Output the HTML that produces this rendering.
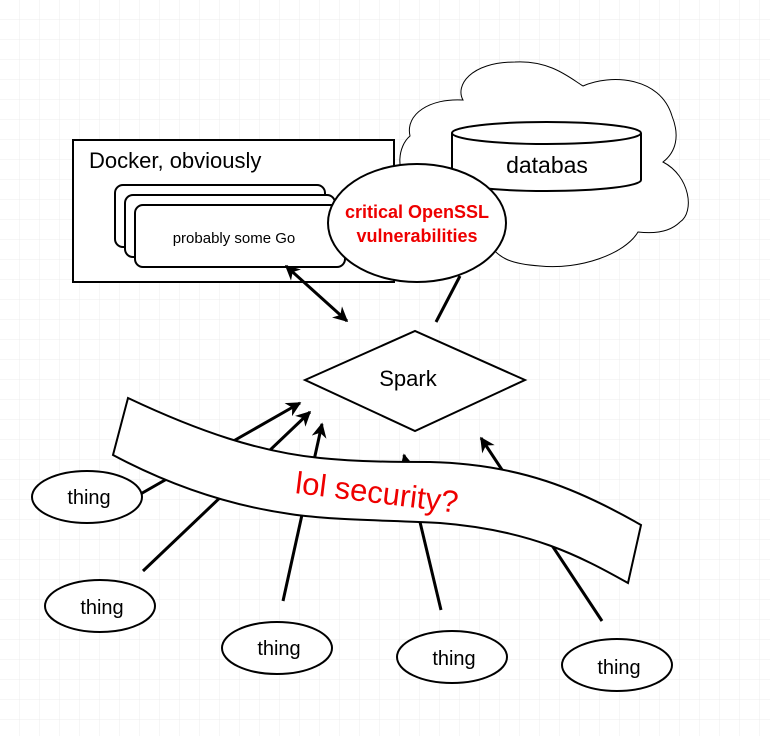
<!DOCTYPE html>
<html><head><style>
body{margin:0;background:#fff}
svg{display:block}
text{font-family:"Liberation Sans",sans-serif}
</style></head><body>
<svg width="770" height="736" viewBox="0 0 770 736" xmlns="http://www.w3.org/2000/svg">
<defs>
<pattern id="g" width="20" height="20" patternUnits="userSpaceOnUse">
<path d="M20 0V20H0" fill="none" stroke="#ececec" stroke-width="1"/>
</pattern>
<marker id="a" viewBox="0 0 10 10" refX="9" refY="5" markerWidth="5" markerHeight="5" orient="auto-start-reverse">
<path d="M0 0L10 5L0 10L3 5z" fill="#000"/>
</marker>
</defs>
<rect width="770" height="736" fill="url(#g)"/>
<!-- cloud -->
<path d="M463 100 C455 86 470 62 515 62 C550 60 570 78 583 86 C610 74 660 76 672 116 C680 136 676 152 663 162 C690 176 695 212 680 222 C670 232 655 234 638 232 C625 254 580 270 540 266 C510 264 500 258 490 246 C465 258 425 252 420 226 C405 216 400 196 410 182 C395 172 398 146 410 136 C405 114 430 98 463 100z" fill="#fff" stroke="#000" stroke-width="1"/>
<!-- cylinder -->
<path d="M452 133 V180 A94.5 11 0 0 0 641 180 V133" fill="#fff" stroke="#000" stroke-width="2"/>
<ellipse cx="546.5" cy="133" rx="94.5" ry="11" fill="#fff" stroke="#000" stroke-width="2"/>
<text x="547" y="173" font-size="23" text-anchor="middle">databas</text>
<!-- docker -->
<rect x="73" y="140" width="321" height="142" fill="#fff" stroke="#000" stroke-width="2"/>
<text x="89" y="168" font-size="22">Docker, obviously</text>
<rect x="115" y="185" width="210" height="62" rx="8" fill="#fff" stroke="#000" stroke-width="2"/>
<rect x="125" y="195" width="210" height="62" rx="8" fill="#fff" stroke="#000" stroke-width="2"/>
<rect x="135" y="205" width="210" height="62" rx="8" fill="#fff" stroke="#000" stroke-width="2"/>
<text x="234" y="243" font-size="15" text-anchor="middle">probably some Go</text>
<!-- openssl ellipse -->
<ellipse cx="417" cy="223" rx="89" ry="59" fill="#fff" stroke="#000" stroke-width="2"/>
<text x="417" y="218" font-size="18" font-weight="bold" fill="#e00" text-anchor="middle">critical OpenSSL</text>
<text x="417" y="242" font-size="18" font-weight="bold" fill="#e00" text-anchor="middle">vulnerabilities</text>
<!-- connectors top -->
<line x1="286" y1="266" x2="347" y2="321" stroke="#000" stroke-width="3" marker-start="url(#a)" marker-end="url(#a)"/>
<line x1="436" y1="322" x2="460" y2="276" stroke="#000" stroke-width="3"/>
<!-- diamond -->
<polygon points="305,380 415,331 525,380 415,431" fill="#fff" stroke="#000" stroke-width="2"/>
<text x="408" y="386" font-size="22" text-anchor="middle">Spark</text>
<!-- thing lines -->
<g stroke="#000" stroke-width="3" marker-end="url(#a)">
<line x1="130" y1="500" x2="300" y2="403"/>
<line x1="143" y1="571" x2="310" y2="412"/>
<line x1="283" y1="601" x2="322" y2="424"/>
<line x1="441" y1="610" x2="404" y2="455"/>
<line x1="602" y1="621" x2="481" y2="438"/>
</g>
<!-- things -->
<g fill="#fff" stroke="#000" stroke-width="2">
<ellipse cx="87" cy="497" rx="55" ry="26"/>
<ellipse cx="100" cy="606" rx="55" ry="26"/>
<ellipse cx="277" cy="648" rx="55" ry="26"/>
<ellipse cx="452" cy="657" rx="55" ry="26"/>
<ellipse cx="617" cy="665" rx="55" ry="26"/>
</g>
<g font-size="20" text-anchor="middle">
<text x="89" y="504">thing</text>
<text x="102" y="614">thing</text>
<text x="279" y="655">thing</text>
<text x="454" y="665">thing</text>
<text x="619" y="674">thing</text>
</g>
<!-- banner -->
<path d="M128 398 C200 432 260 452 320 458 C360 462 400 462 430 462 C520 464 580 490 641 525 L628 583 C580 556 530 530 440 523 C380 520 330 520 290 514 C220 504 160 480 113 455 Z" fill="#fff" stroke="#000" stroke-width="2"/>
<text x="377" y="503" font-size="31" fill="#e00" text-anchor="middle" transform="rotate(7 377 492)">lol security?</text>
</svg>
</body></html>
